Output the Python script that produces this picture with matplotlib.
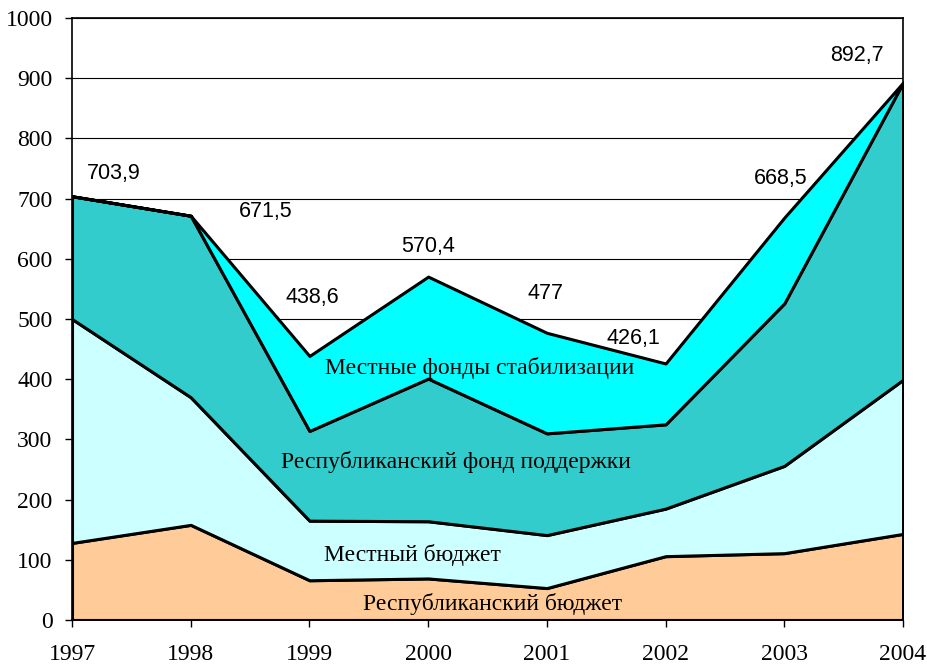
import matplotlib
matplotlib.use('Agg')
import matplotlib.pyplot as plt

years = [1997, 1998, 1999, 2000, 2001, 2002, 2003, 2004]
rep_budget = [128, 158, 66, 69, 53, 106, 111, 143]
local_budget = [372, 212, 99, 95, 88, 79, 145, 256]
rep_fund = [203.9, 301.5, 149, 237, 169, 140, 270, 493.7]
local_stab = [0, 0, 124.6, 169.4, 167, 101.1, 142.5, 0]
totals = [703.9, 671.5, 438.6, 570.4, 477, 426.1, 668.5, 892.7]
total_labels = ['703,9', '671,5', '438,6', '570,4', '477', '426,1', '668,5', '892,7']
# where each total label sits (data coords)
label_pos = [(1997.35, 742), (1998.63, 678), (1999.02, 536), (2000.0, 620),
             (2000.99, 543), (2001.73, 468), (2002.97, 733), (2003.61, 937)]

layer_names = ['Республиканский бюджет', 'Местный бюджет',
               'Республиканский фонд поддержки', 'Местные фонды стабилизации']
layer_colors = ['#FFCC99', '#CCFFFF', '#33CCCC', '#00FFFF']
name_pos = [(2000.54, 26), (1999.87, 108), (2000.23, 263), (2000.43, 419)]

fig = plt.figure(figsize=(9.28, 6.64), dpi=100)
ax = fig.add_axes([0.0776, 0.0663, 0.8955, 0.9066])

ax.stackplot(years, rep_budget, local_budget, rep_fund, local_stab,
             colors=layer_colors, edgecolor='black', linewidth=2.2, zorder=2)

ax.set_xlim(1997, 2004)
ax.set_ylim(0, 1000)
ax.set_yticks(range(0, 1001, 100))
ax.set_xticks(years)
ax.grid(axis='y', color='black', linewidth=0.8, zorder=0)
ax.set_axisbelow(True)

for lab in ax.get_xticklabels() + ax.get_yticklabels():
    lab.set_family('Liberation Serif')
    lab.set_fontsize(17)
ax.tick_params(axis='x', length=5, width=1, pad=12)
ax.tick_params(axis='y', length=5, width=1, pad=9)
for s in ax.spines.values():
    s.set_linewidth(1.2)
    s.set_zorder(3)

for (x, y), t in zip(label_pos, total_labels):
    ax.text(x, y, t, ha='center', va='center', fontsize=15.5,
            family='Liberation Sans', zorder=4)

for (x, y), t in zip(name_pos, layer_names):
    ax.text(x, y, t, ha='center', va='center', fontsize=17,
            family='Liberation Serif', zorder=4)

plt.savefig('out.png', dpi=100)
